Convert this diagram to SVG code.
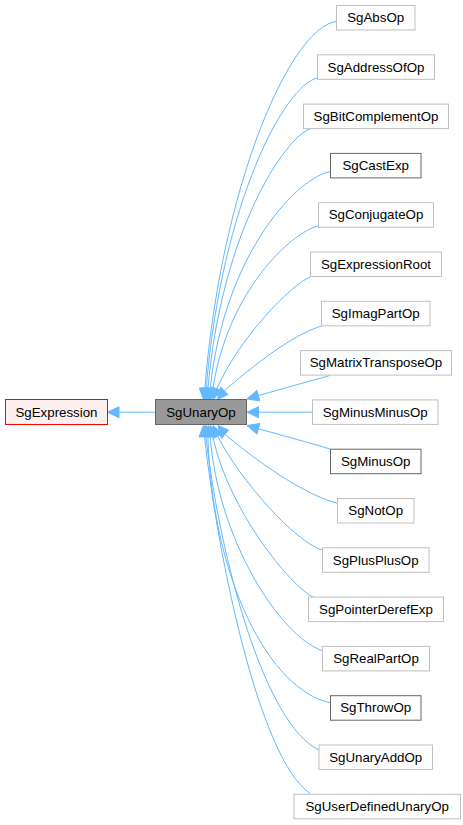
<svg xmlns="http://www.w3.org/2000/svg" width="463" height="825" viewBox="0 0 463 825">
<style>
text{font-family:"Liberation Sans",Arial,sans-serif;font-size:13.3px;fill:#000;text-anchor:middle}
.n rect{fill:#fff;stroke:#bfbfbf;stroke-width:1}
.d rect{fill:#fff;stroke:#666;stroke-width:1}
.e path{fill:none;stroke:#63b8ff;stroke-width:1}
.e polygon{fill:#63b8ff;stroke:#63b8ff;stroke-width:1}
</style>
<rect width="463" height="825" fill="#fff"/>
<g id="edges" class="e">
<path d="M155.5,412.2 L119,412.2"/><polygon points="119,406.7 107.5,412.2 119,417.7"/>
<path d="M336.7,21.5 C292,26 222,180 204.8,388.3"/><polygon points="199.3,388 203.5,399.5 210.3,388.6"/>
<path d="M317,78 C285,86 222,200 206.2,388.3"/><polygon points="200.7,388 205,399.5 211.7,388.6"/>
<path d="M310,128.8 C285,138 222,230 207.9,388.3"/><polygon points="202.4,388 206.5,399.5 213.4,388.8"/>
<path d="M330.7,171.5 C300,176 225,250 210.2,388.4"/><polygon points="204.7,387.9 208.5,399.5 215.6,389"/>
<path d="M318.3,226 C292,232 228,290 212.9,388.6"/><polygon points="207.4,387.8 210.5,399.5 218.2,389.4"/>
<path d="M311,276.5 C290,285 238,340 216.8,388.9"/><polygon points="211.7,386.8 213,399.5 221.8,390.9"/>
<path d="M321.7,326 C300,332 265,355 224.5,390.8"/><polygon points="220.6,386.9 217.5,399.5 227.9,394.6"/>
<path d="M330,375.5 C310,381 285,388 258.4,395.6"/><polygon points="256.9,390.3 247,399 259.9,400.9"/>
<path d="M312.5,412.2 L258.5,412.2"/><polygon points="258.5,406.7 247,412.2 258.5,417.7"/>
<path d="M330,449 C310,443 285,436 258.4,428.8"/><polygon points="259.9,423.5 247,425.5 256.9,434.1"/>
<path d="M337.3,503.3 C310,496 270,472 225,434.3"/><polygon points="228.5,430.1 218,425.5 221.5,438.5"/>
<path d="M322.3,550 C295,542 240,480 217.6,436.1"/><polygon points="222.6,433.6 213,425.5 212.8,438.6"/>
<path d="M313.3,597 C292,588 228,510 212.9,436.4"/><polygon points="218.3,435.3 210.5,425.5 207.5,437.5"/>
<path d="M322.3,650.7 C280,636 218,540 210.2,436.5"/><polygon points="215.7,436.1 208.5,425.5 204.7,436.9"/>
<path d="M330,702.7 C270,690 212,580 207.9,436.5"/><polygon points="213.4,436.4 206.5,425.5 202.4,436.6"/>
<path d="M319,750 C265,725 220,560 205.9,436.5"/><polygon points="211.4,436.2 205,425.5 200.4,436.8"/>
<path d="M310,793.3 C260,760 218,560 204.5,436.5"/><polygon points="210,436.2 203.5,425.5 199,436.8"/>
</g>
<g id="SgExpression"><rect x="5.5" y="399.5" width="102" height="25" fill="#fff0f0" stroke="#ff0000"/><text x="56.5" y="416.7">SgExpression</text></g>
<g id="SgUnaryOp"><rect x="155.5" y="399.5" width="91" height="25" fill="#999999" stroke="#666666"/><text x="201" y="416.7">SgUnaryOp</text></g>
<g id="SgAbsOp" class="n"><rect x="336.5" y="5.5" width="78.5" height="24.5"/><text x="375.7" y="22.2">SgAbsOp</text></g>
<g id="SgAddressOfOp" class="n"><rect x="317.5" y="54.8" width="117" height="24.5"/><text x="376" y="71.5">SgAddressOfOp</text></g>
<g id="SgBitComplementOp" class="n"><rect x="303.5" y="104.1" width="145" height="24.5"/><text x="376" y="120.8">SgBitComplementOp</text></g>
<g id="SgCastExp" class="d"><rect x="330.5" y="153.4" width="90.5" height="24.5"/><text x="375.7" y="170.1">SgCastExp</text></g>
<g id="SgConjugateOp" class="n"><rect x="318.5" y="202.7" width="115" height="24.5"/><text x="376" y="219.4">SgConjugateOp</text></g>
<g id="SgExpressionRoot" class="n"><rect x="310.5" y="252" width="131" height="24.5"/><text x="376" y="268.7">SgExpressionRoot</text></g>
<g id="SgImagPartOp" class="n"><rect x="321.5" y="301.3" width="108.5" height="24.5"/><text x="375.7" y="318">SgImagPartOp</text></g>
<g id="SgMatrixTransposeOp" class="n"><rect x="300.5" y="350.6" width="151" height="24.5"/><text x="376" y="367.3">SgMatrixTransposeOp</text></g>
<g id="SgMinusMinusOp" class="n"><rect x="312.5" y="399.9" width="125.5" height="24.5"/><text x="375.2" y="416.6">SgMinusMinusOp</text></g>
<g id="SgMinusOp" class="d"><rect x="330.5" y="449.2" width="90.5" height="24.5"/><text x="375.7" y="465.9">SgMinusOp</text></g>
<g id="SgNotOp" class="n"><rect x="337.5" y="498.5" width="76.5" height="24.5"/><text x="375.7" y="515.2">SgNotOp</text></g>
<g id="SgPlusPlusOp" class="n"><rect x="322.5" y="547.8" width="106.5" height="24.5"/><text x="375.7" y="564.5">SgPlusPlusOp</text></g>
<g id="SgPointerDerefExp" class="n"><rect x="308.5" y="597.1" width="135" height="24.5"/><text x="376" y="613.8">SgPointerDerefExp</text></g>
<g id="SgRealPartOp" class="n"><rect x="322.5" y="646.4" width="107" height="24.5"/><text x="376" y="663.1">SgRealPartOp</text></g>
<g id="SgThrowOp" class="d"><rect x="330.5" y="695.7" width="90.5" height="24.5"/><text x="375.7" y="712.4">SgThrowOp</text></g>
<g id="SgUnaryAddOp" class="n"><rect x="319" y="745" width="113.5" height="24.5"/><text x="375.7" y="761.7">SgUnaryAddOp</text></g>
<g id="SgUserDefinedUnaryOp" class="n"><rect x="294" y="794.3" width="166.5" height="24.5"/><text x="377.2" y="811">SgUserDefinedUnaryOp</text></g>
</svg>
